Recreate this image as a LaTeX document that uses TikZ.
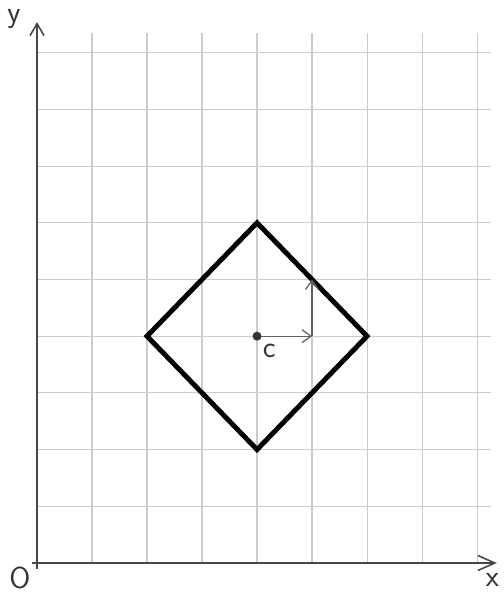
\documentclass[tikz,border=0pt]{standalone}
\usetikzlibrary{arrows.meta}
\tikzset{
    gridline/.style={draw=black!20,line width=0.6pt},
    axisline/.style={draw=black!72,line width=0.9pt},
    shapeline/.style={draw=black,line width=2.8pt,line join=miter},
    vecline/.style={draw=black!62,line width=0.7pt,-{Straight Barb[length=1.8mm,width=2.6mm]}},
    lbl/.style={font=\sffamily\LARGE,text=black!80,inner sep=0pt}
}
\begin{document}
\begin{tikzpicture}[x=1.1cm,y=1.134cm]
                        \useasboundingbox (-0.673,-0.547) rectangle (8.473,9.929);
                        % grid
                        \foreach \i in {1,...,8} \draw [gridline] (\i,0) -- (\i,9.35);
                        \foreach \j in {1,...,9} \draw [gridline] (0,\j) -- (8.25,\j);
                        % axes
                        \coordinate (O) at (0,0); \node at (-0.31,-0.27) [lbl] (Olbl) {O};
                        \coordinate (X) at (8.36,0); \node at (8.28,-0.3) [lbl] (Xlbl) {x};
                        \coordinate (Y) at (0,9.54); \node at (-0.42,9.6) [lbl] (Ylbl) {y};
                        \draw [axisline,-{Straight Barb[length=3.4mm,width=3mm]}] (-0.1,0) -- (X);
                        \draw [axisline,-{Straight Barb[length=2.4mm,width=2.8mm]}] (0,-0.1) -- (Y);
                        % square
                        \coordinate (C) at (4,4); \node at (4.22,3.74) [lbl] (Clbl) {c};
                        \coordinate (T) at (4,6);
                        \coordinate (L) at (2,4);
                        \coordinate (B) at (4,2);
                        \coordinate (R) at (6,4);
                        \draw [shapeline] (T) -- (R) -- (B) -- (L) -- cycle;
                        % local axes at c
                        \coordinate (U) at (5,4);
                        \coordinate (V) at (5,5);
                        \draw [vecline] (C) -- (U);
                        \draw [vecline] (U) -- (V);
                        \fill [black!80] (C) circle (0.09cm);
                    \end{tikzpicture}
\end{document}
